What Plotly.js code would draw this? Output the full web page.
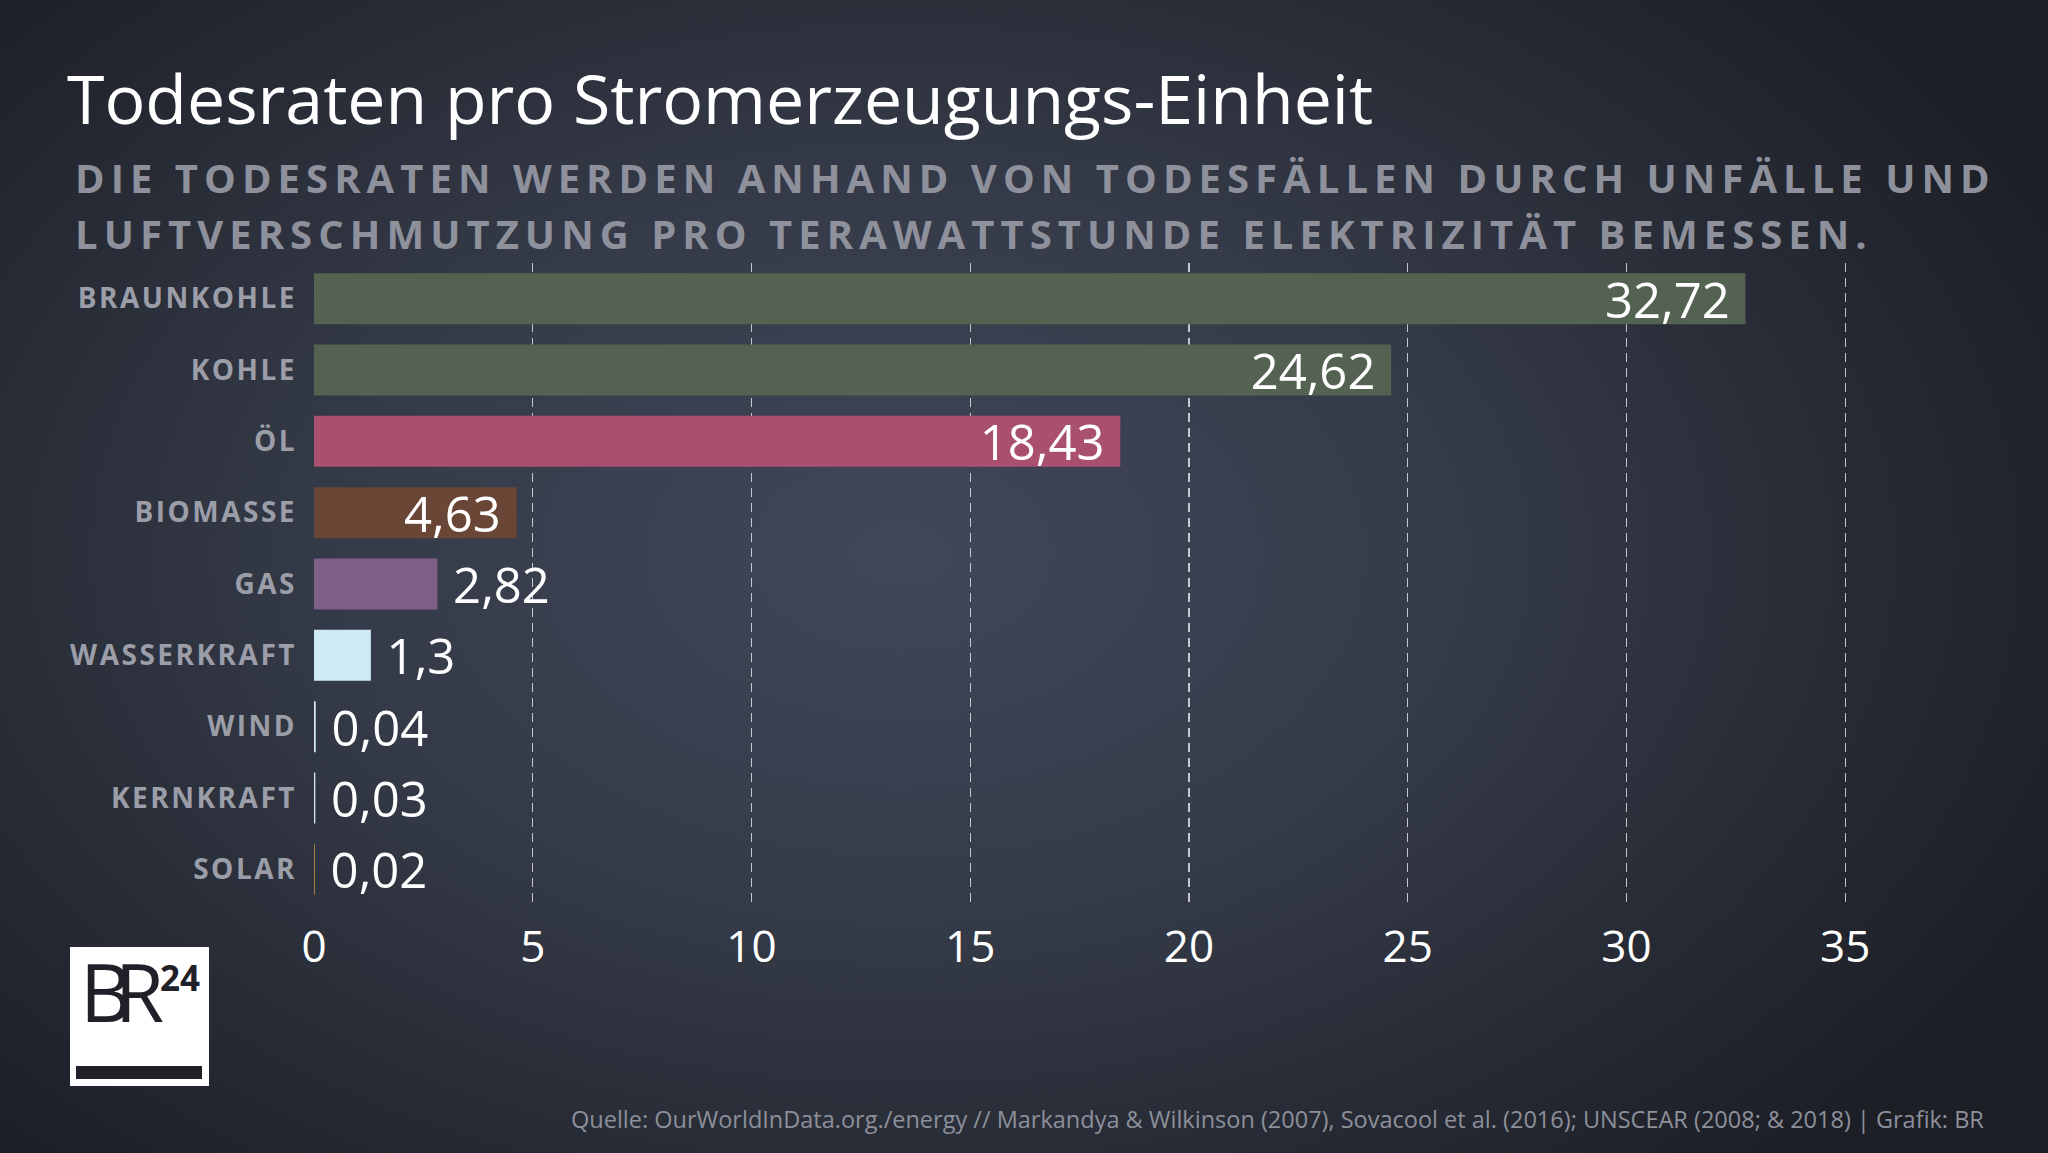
<!DOCTYPE html>
<html>
<head>
<meta charset="utf-8">
<script src="https://cdn.plot.ly/plotly-3.0.1.min.js"></script>
<style>
html,body{margin:0;padding:0;}
body{width:2048px;height:1153px;overflow:hidden;
 background: radial-gradient(ellipse 62% 72% at 44% 48%, #414759 0%, #353a48 45%, #272b35 75%, #1d1f27 100%);}
#chart{width:2048px;height:1153px;}
.ytick text{letter-spacing:2.5px;}
.annotation[data-index="1"] text, .annotation[data-index="2"] text{letter-spacing:6.05px;}
.annotation[data-index="4"] text{letter-spacing:-17px;}
</style>
</head>
<body>
<div id="chart"></div>
<script>
// ---- data ----
const categories = ['BRAUNKOHLE','KOHLE','ÖL','BIOMASSE','GAS','WASSERKRAFT','WIND','KERNKRAFT','SOLAR'];
const values = [32.72, 24.62, 18.43, 4.63, 2.82, 1.3, 0.04, 0.03, 0.02];
const xTickVals = [0,5,10,15,20,25,30,35];
const xTickText = ['0','5','10','15','20','25','30','35'];

const titleText = 'Todesraten pro Stromerzeugungs-Einheit';
const subtitleLines = ['DIE TODESRATEN WERDEN ANHAND VON TODESFÄLLEN DURCH UNFÄLLE UND',
                       'LUFTVERSCHMUTZUNG PRO TERAWATTSTUNDE ELEKTRIZITÄT BEMESSEN.'];
const sourceText = 'Quelle: OurWorldInData.org./energy // Markandya & Wilkinson (2007), Sovacool et al. (2016); UNSCEAR (2008; & 2018) | Grafik: BR';

// ---- styles ----
const barColors = ['#546351','#546351','#a94f70','#6a4636','#7e5f88','#cfeaf6','#cfe8f4','#cfe8f4','#b08a3c'];
const labelPos = ['inside','inside','inside','inside','outside','outside','outside','outside','outside'];

const fmt = v => String(v).replace('.', ',');
const labels = values.map((v,i) => labelPos[i]==='inside' ? fmt(v)+'\u00a0' : '\u00a0'+fmt(v));

// ---- geometry helpers (page pixels -> paper coords) ----
const L = 314, T = 263, W = 1575, H = 642;
const px = x => (x - L) / W;
const py = y => 1 - (y - T) / H;

const FONT = 'Open Sans, Noto Sans, sans-serif';
const VAL_SIZE = 49;

const trace = {
  type: 'bar',
  orientation: 'h',
  x: values,
  y: categories,
  marker: {color: barColors, line: {width: 0}},
  text: labels,
  textposition: labelPos,
  insidetextanchor: 'end',
  textangle: 0,
  constraintext: 'none',
  cliponaxis: false,
  textfont: {family: FONT, size: VAL_SIZE, color: '#ffffff'},
  insidetextfont: {family: FONT, size: VAL_SIZE, color: '#ffffff'},
  outsidetextfont: {family: FONT, size: VAL_SIZE, color: '#ffffff'},
  hoverinfo: 'skip'
};

const layout = {
  width: 2048, height: 1153,
  margin: {l: L, r: 2048 - L - W, t: T, b: 1153 - T - H, pad: 0},
  paper_bgcolor: 'rgba(0,0,0,0)',
  plot_bgcolor: 'rgba(0,0,0,0)',
  showlegend: false,
  bargap: 0.285,
  xaxis: {
    range: [0, 36],
    tickvals: xTickVals, ticktext: xTickText,
    showgrid: true, gridcolor: 'rgba(235,238,245,0.78)', gridwidth: 1.3, griddash: '9px,6px',
    zeroline: true, zerolinecolor: 'rgba(0,0,0,0)', zerolinewidth: 0,
    showline: false, ticks: '',
    ticklabelstandoff: 12,
    tickfont: {family: FONT, size: 44, color: '#ffffff'},
    fixedrange: true
  },
  yaxis: {
    type: 'category',
    categoryorder: 'array', categoryarray: categories,
    range: [8.5, -0.5],
    showgrid: false, zeroline: false, showline: false, ticks: '',
    ticklabelstandoff: 16,
    tickfont: {family: FONT, size: 28, color: '#9b9ea8', weight: 700},
    fixedrange: true
  },
  annotations: [
    {text: titleText, xref: 'paper', yref: 'paper', x: px(65), y: py(97), xanchor: 'left', yanchor: 'middle', align: 'left',
     showarrow: false, font: {family: FONT, size: 68, color: '#ffffff'}},
    {text: subtitleLines[0], xref: 'paper', yref: 'paper', x: px(73), y: py(177), xanchor: 'left', yanchor: 'middle', align: 'left',
     showarrow: false, font: {family: FONT, size: 40, color: '#8e919b', weight: 700}},
    {text: subtitleLines[1], xref: 'paper', yref: 'paper', x: px(73), y: py(233), xanchor: 'left', yanchor: 'middle', align: 'left',
     showarrow: false, font: {family: FONT, size: 40, color: '#8e919b', weight: 700}},
    {text: sourceText, xref: 'paper', yref: 'paper', x: px(1986), y: py(1119), xanchor: 'right', yanchor: 'middle', align: 'right',
     showarrow: false, font: {family: FONT, size: 23.5, color: '#8d909a'}},
    {text: 'BR', xref: 'paper', yref: 'paper', x: px(78), y: py(990), xanchor: 'left', yanchor: 'middle', align: 'left',
     showarrow: false, font: {family: FONT, size: 80, color: '#1f2028', weight: 500}},
    {text: '24', xref: 'paper', yref: 'paper', x: px(158), y: py(977), xanchor: 'left', yanchor: 'middle', align: 'left',
     showarrow: false, font: {family: FONT, size: 35, color: '#1f2028', weight: 700}}
  ],
  shapes: [
    {type: 'rect', xref: 'paper', yref: 'paper', x0: px(70), x1: px(209), y0: py(947), y1: py(1086),
     fillcolor: '#ffffff', line: {width: 0}, layer: 'above'},
    {type: 'rect', xref: 'paper', yref: 'paper', x0: px(76), x1: px(202), y0: py(1066), y1: py(1079),
     fillcolor: '#1f2028', line: {width: 0}, layer: 'above'}
  ]
};

Plotly.newPlot('chart', [trace], layout, {staticPlot: true, displayModeBar: false});
</script>
</body>
</html>
